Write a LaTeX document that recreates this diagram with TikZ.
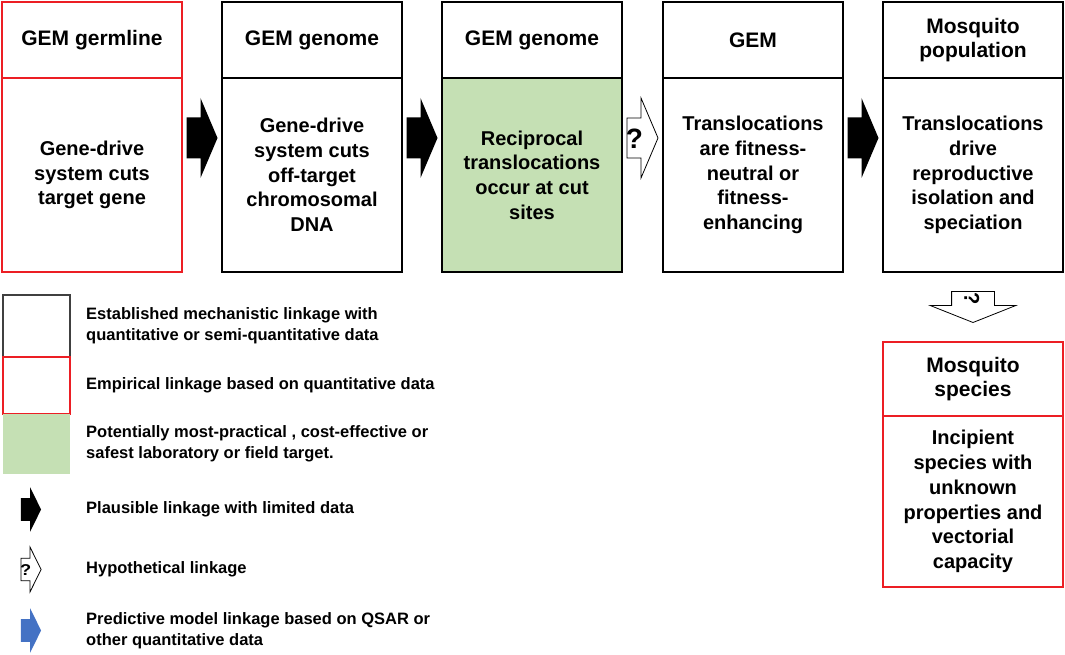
\documentclass[tikz,border=0pt]{standalone}
\usepackage{fontspec}
\setmainfont{Liberation Sans}
\usetikzlibrary{positioning}

\definecolor{targetgreen}{RGB}{197,224,180}
\definecolor{empred}{RGB}{236,30,36}
\definecolor{qsarblue}{RGB}{68,114,196}
\definecolor{legendgray}{RGB}{64,64,64}

\tikzset{
  hdr/.style={draw, line width=1.5pt, minimum width=180pt, minimum height=76pt,
    align=center, inner sep=0pt, outer sep=0pt,
    font=\fontsize{21}{23.5}\selectfont\bfseries},
  bdy/.style={draw, line width=1.5pt, minimum width=180pt, minimum height=194pt,
    align=center, inner sep=0pt, outer sep=0pt,
    font=\fontsize{20}{24.7}\selectfont\bfseries},
  emp/.style={draw=empred},
  swatch/.style={minimum width=67pt, inner sep=0pt, outer sep=0pt, line width=1.5pt},
  legtxt/.style={anchor=west, align=left, inner sep=0pt,
    font=\fontsize{16.5}{21}\selectfont\bfseries},
  pics/plausible/.style={code={
    \fill[#1] (-15.5,-20.5) -- (-1.5,-20.5) -- (-1.5,-40) -- (15.5,0)
      -- (-1.5,40) -- (-1.5,20.5) -- (-15.5,20.5) -- cycle;}},
  pics/plausible/.default=black,
  pics/hypothetical/.style={code={
    \draw[fill=white, line width=0.8pt] (-15.5,-20) -- (-1.5,-20) -- (-1.5,-40)
      -- (15.5,0) -- (-1.5,40) -- (-1.5,20) -- (-15.5,20) -- cycle;
    \node[transform shape, inner sep=0pt, font=\fontsize{#1}{#1}\selectfont\bfseries]
      at (-8,1) {?};}},
  pics/hypothetical/.default=28
}

\begin{document}
\begin{tikzpicture}[x=1pt, y=-1pt]
	\useasboundingbox (0,0) rectangle (1065,655);
	
	% Draw the five steps of the chain
	\node[hdr, emp] (h1) at (92,40) {GEM germline};
	\node[bdy, emp, below=0pt of h1] (b1) {Gene-drive\\system cuts\\target gene};
	
	\node[hdr] (h2) at (312,40) {GEM genome};
	\node[bdy, below=0pt of h2] (b2) {Gene-drive\\system cuts\\off-target\\chromosomal\\DNA};
	
	\node[hdr] (h3) at (532,40) {GEM genome};
	\node[bdy, fill=targetgreen, below=0pt of h3] (b3) {Reciprocal\\translocations\\occur at cut\\sites};
	
	\node[hdr] (h4) at (753,40) {GEM};
	\node[bdy, below=0pt of h4] (b4) {Translocations\\are fitness-\\neutral or\\fitness-\\enhancing};
	
	\node[hdr] (h5) at (973,40) {Mosquito\\population};
	\node[bdy, below=0pt of h5] (b5) {Translocations\\drive\\reproductive\\isolation and\\speciation};
	
	% Draw the last step below the population box
	\node[hdr, emp, minimum height=74pt] (h6) at (973,379) {Mosquito\\species};
	\node[bdy, emp, minimum height=171pt, below=0pt of h6] (b6) {Incipient\\species with\\unknown\\properties and\\vectorial\\capacity};
	
	% Draw the block arrows between the steps
	\path (b1.east) -- (b2.west) coordinate[midway] (m1);
	\path (b2.east) -- (b3.west) coordinate[midway] (m2);
	\path (b3.east) -- (b4.west) coordinate[midway] (m3);
	\path (b4.east) -- (b5.west) coordinate[midway] (m4);
	\path (b5.south) -- (h6.north) coordinate[midway] (m5);
	\pic at ([yshift=37pt]m1) {plausible};
	\pic at ([yshift=37pt]m2) {plausible};
	\pic at ([yshift=37pt]m3) {hypothetical};
	\pic at ([yshift=37pt]m4) {plausible};
	\pic[rotate=-90, yscale=1.07] at (m5) {hypothetical=20};
	
	% Draw the legend
	\node[swatch, draw=legendgray, minimum height=62pt] (s1) at (36.5,326) {};
	\node[swatch, draw=empred, minimum height=57pt, below=0pt of s1] (s2) {};
	\node[swatch, fill=targetgreen, minimum height=60pt, below=0pt of s2] (s3) {};
	\node[legtxt, right=16pt of s1] (t1) {Established mechanistic linkage with\\quantitative or semi-quantitative data};
	\node[legtxt, right=16pt of s2] (t2) {Empirical linkage based on quantitative data};
	\node[legtxt, right=16pt of s3] (t3) {Potentially most-practical , cost-effective or\\safest laboratory or field target.};
	
	\pic[xscale=0.65, yscale=0.56] at (31,509.5) {plausible};
	\pic[xscale=0.65, yscale=0.56] at (31,569.5) {hypothetical};
	\pic[xscale=0.65, yscale=0.56] at (31,630.5) {plausible=qsarblue};
	\node[legtxt] (t4) at (86,509.5) {Plausible linkage with limited data};
	\node[legtxt] (t5) at (86,569.5) {Hypothetical linkage};
	\node[legtxt] (t6) at (86,630.5) {Predictive model linkage based on QSAR or\\other quantitative data};
\end{tikzpicture}
\end{document}
